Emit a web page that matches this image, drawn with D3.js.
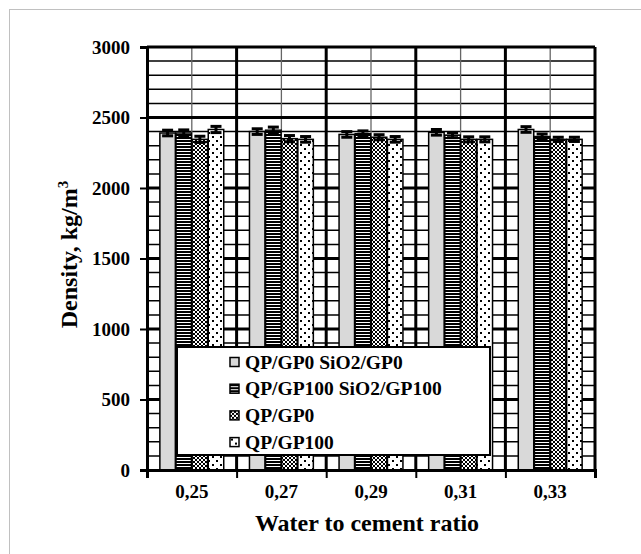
<!DOCTYPE html>
<html>
<head>
<meta charset="utf-8">
<script src="https://cdn.jsdelivr.net/npm/d3@7"></script>
<style>
  body { margin: 0; background: #fff; }
  text { font-family: "Liberation Serif", "Times New Roman", serif; font-weight: bold; }
</style>
</head>
<body>
<div id="chart"></div>
<script>
// data
const categories = ["0,25", "0,27", "0,29", "0,31", "0,33"];
const seriesNames = ["QP/GP0 SiO2/GP0", "QP/GP100 SiO2/GP100", "QP/GP0", "QP/GP100"];
const sio2Gp0 = [2390, 2400, 2380, 2395, 2415];
const sio2Gp100 = [2390, 2410, 2385, 2375, 2365];
const qpGp0 = [2345, 2350, 2360, 2345, 2345];
const qpGp100 = [2415, 2345, 2345, 2345, 2345];
const errSio2Gp0 = [20, 20, 20, 20, 20];
const errSio2Gp100 = [22, 22, 20, 18, 18];
const errQpGp0 = [22, 22, 18, 18, 15];
const errQpGp100 = [22, 20, 20, 18, 15];
const yTicks = [0, 500, 1000, 1500, 2000, 2500, 3000];

const W = 641, H = 554;
const margin = { top: 47, right: 46, bottom: 84, left: 147 };
const width = W - margin.left - margin.right;
const height = H - margin.top - margin.bottom;

const series = [
  { name: seriesNames[0], values: sio2Gp0, err: errSio2Gp0, fill: "#d9d9d9" },
  { name: seriesNames[1], values: sio2Gp100, err: errSio2Gp100, fill: "url(#hstripe)" },
  { name: seriesNames[2], values: qpGp0, err: errQpGp0, fill: "url(#checker)" },
  { name: seriesNames[3], values: qpGp100, err: errQpGp100, fill: "url(#dots)" }
];

const svg = d3.select("#chart").append("svg")
  .attr("width", W)
  .attr("height", H);

// outer frame
svg.append("rect")
  .attr("x", 9.5).attr("y", 9.5)
  .attr("width", W).attr("height", H)
  .attr("fill", "none")
  .attr("stroke", "#c0c0c0");

// patterns
const defs = svg.append("defs");
const hs = defs.append("pattern").attr("id", "hstripe")
  .attr("patternUnits", "userSpaceOnUse").attr("width", 4).attr("height", 3);
hs.append("rect").attr("width", 4).attr("height", 3).attr("fill", "#fff");
hs.append("rect").attr("width", 4).attr("height", 2).attr("fill", "#000");

const ck = defs.append("pattern").attr("id", "checker")
  .attr("patternUnits", "userSpaceOnUse").attr("width", 4).attr("height", 4);
ck.append("rect").attr("width", 4).attr("height", 4).attr("fill", "#fff");
ck.append("rect").attr("width", 2).attr("height", 2).attr("fill", "#000");
ck.append("rect").attr("x", 2).attr("y", 2).attr("width", 2).attr("height", 2).attr("fill", "#000");

const dt = defs.append("pattern").attr("id", "dots")
  .attr("patternUnits", "userSpaceOnUse").attr("width", 8).attr("height", 8);
dt.append("rect").attr("width", 8).attr("height", 8).attr("fill", "#fff");
dt.append("rect").attr("x", 1).attr("y", 1).attr("width", 2).attr("height", 2).attr("fill", "#000");
dt.append("rect").attr("x", 5).attr("y", 5).attr("width", 2).attr("height", 2).attr("fill", "#000");

const g = svg.append("g")
  .attr("transform", `translate(${margin.left},${margin.top})`);

// scales
const x0 = d3.scaleBand().domain(categories).range([0, width]).padding(0);
const gap = x0.bandwidth() * 1.5 / 5.5 / 2;
const x1 = d3.scaleBand().domain(seriesNames)
  .range([gap, x0.bandwidth() - gap]).padding(0.04);
const xb = d3.scaleLinear().domain([0, categories.length]).range([0, width]);
const y = d3.scaleLinear().domain([0, 3000]).range([height, 0]);

// gridlines
const minor = d3.range(100, 3000, 100).filter(v => v % 500 !== 0);
g.append("g").selectAll("line").data(minor).join("line")
  .attr("x1", 0).attr("x2", width)
  .attr("y1", d => y(d)).attr("y2", d => y(d))
  .attr("stroke", "#000").attr("stroke-width", 1.5);
g.append("g").selectAll("line").data(categories).join("line")
  .attr("x1", d => x0(d) + x0.bandwidth() / 2).attr("x2", d => x0(d) + x0.bandwidth() / 2)
  .attr("y1", 0).attr("y2", height)
  .attr("stroke", "#666").attr("stroke-width", 1.3);
g.append("g").selectAll("line").data(yTicks.slice(1)).join("line")
  .attr("x1", 0).attr("x2", width)
  .attr("y1", d => y(d)).attr("y2", d => y(d))
  .attr("stroke", "#000").attr("stroke-width", 3);
g.append("g").selectAll("line").data(d3.range(1, categories.length + 1)).join("line")
  .attr("x1", d => xb(d)).attr("x2", d => xb(d))
  .attr("y1", 0).attr("y2", height)
  .attr("stroke", "#000").attr("stroke-width", 3);

// bars
const groups = g.append("g").selectAll("g").data(series).join("g");
groups.selectAll("rect")
  .data(s => s.values.map((v, i) => ({ cat: categories[i], v, s })))
  .join("rect")
  .attr("x", d => x0(d.cat) + x1(d.s.name))
  .attr("y", d => y(d.v))
  .attr("width", x1.bandwidth())
  .attr("height", d => height - y(d.v))
  .attr("fill", d => d.s.fill)
  .attr("stroke", "#000")
  .attr("stroke-width", 1.5);

// error bars
const errs = g.append("g").selectAll("g")
  .data(series.flatMap(s => s.values.map((v, i) => ({ cat: categories[i], v, e: s.err[i], s }))))
  .join("g")
  .attr("transform", d => `translate(${x0(d.cat) + x1(d.s.name) + x1.bandwidth() / 2},0)`);
errs.append("line")
  .attr("y1", d => y(d.v - d.e)).attr("y2", d => y(d.v + d.e))
  .attr("stroke", "#000").attr("stroke-width", 3);
errs.append("line")
  .attr("x1", -5.5).attr("x2", 5.5)
  .attr("y1", d => y(d.v + d.e)).attr("y2", d => y(d.v + d.e))
  .attr("stroke", "#000").attr("stroke-width", 3);
errs.append("line")
  .attr("x1", -5.5).attr("x2", 5.5)
  .attr("y1", d => y(d.v - d.e)).attr("y2", d => y(d.v - d.e))
  .attr("stroke", "#000").attr("stroke-width", 3);

// axes
const yAxis = g.append("g")
  .call(d3.axisLeft(y).tickValues(yTicks).tickFormat(d3.format("d")).tickSize(7).tickPadding(10));
yAxis.select(".domain").attr("stroke-width", 3);
yAxis.selectAll(".tick line").attr("stroke-width", 2);
yAxis.selectAll("text").attr("font-size", 19).attr("fill", "#000")
  .style("font-family", "Liberation Serif").style("font-weight", "bold");

const xTickAxis = g.append("g").attr("transform", `translate(0,${height})`)
  .call(d3.axisBottom(xb).tickValues(d3.range(0, categories.length + 1)).tickFormat("").tickSize(8));
xTickAxis.select(".domain").attr("stroke-width", 3);
xTickAxis.selectAll(".tick line").attr("stroke-width", 2);

const xAxis = g.append("g").attr("transform", `translate(0,${height})`)
  .call(d3.axisBottom(x0).tickSize(0).tickPadding(15));
xAxis.select(".domain").remove();
xAxis.selectAll("text").attr("font-size", 19).attr("fill", "#000")
  .style("font-family", "Liberation Serif").style("font-weight", "bold");

// axis titles
g.append("text")
  .attr("x", width / 2 - 4)
  .attr("y", height + 61)
  .attr("text-anchor", "middle")
  .attr("font-size", 24)
  .text("Water to cement ratio");

const yt = g.append("text")
  .attr("transform", `translate(${-70},${height / 2 - 4}) rotate(-90)`)
  .attr("text-anchor", "middle")
  .attr("font-size", 24);
yt.append("tspan").text("Density, kg/m");
yt.append("tspan").attr("font-size", 15).attr("dy", -9).text("3");

// legend
const lg = svg.append("g").attr("transform", "translate(177,347)");
lg.append("rect")
  .attr("width", 313).attr("height", 108)
  .attr("fill", "#fff")
  .attr("stroke", "#000").attr("stroke-width", 2);
const items = lg.selectAll("g.item").data(series).join("g")
  .attr("class", "item")
  .attr("transform", (d, i) => `translate(53,${10.5 + i * 26.7})`);
items.append("rect")
  .attr("width", 9).attr("height", 9)
  .attr("fill", d => d.fill)
  .attr("stroke", "#000").attr("stroke-width", 1.5);
items.append("text")
  .attr("x", 15).attr("y", 11)
  .attr("font-size", 19.5)
  .text(d => d.name);
</script>
</body>
</html>
